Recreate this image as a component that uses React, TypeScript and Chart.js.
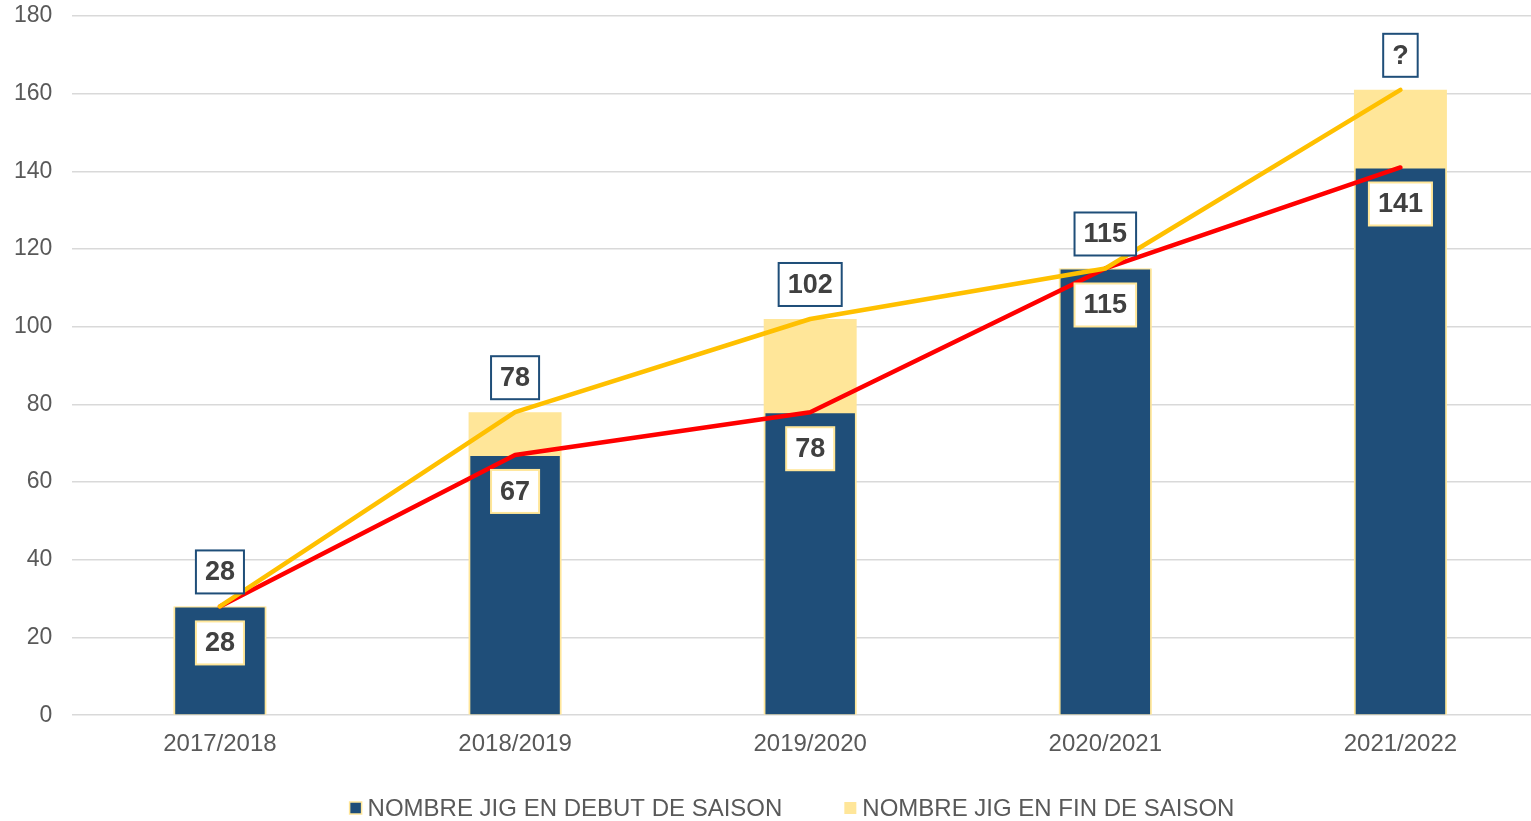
import React, { useEffect, useRef } from "react";
import { Chart, registerables } from "chart.js";

Chart.register(...registerables);

const categories = ["2017/2018", "2018/2019", "2019/2020", "2020/2021", "2021/2022"];
const startValues = [28, 67, 78, 115, 141];
const endValues = [28, 78, 102, 115, 161];
const endLabels = ["28", "78", "102", "115", "?"];
const yTicks = [0, 20, 40, 60, 80, 100, 120, 140, 160, 180];

const DARK = "#1F4E79";
const LIGHT = "#FFE699";
const FONT = "'Liberation Sans', Arial, sans-serif";

function drawBox(ctx: CanvasRenderingContext2D, text: string, cx: number, cy: number, border: string) {
  ctx.save();
  ctx.font = `bold 27px ${FONT}`;
  const w = ctx.measureText(text).width + 18;
  const h = 43;
  ctx.fillStyle = "#FFFFFF";
  ctx.fillRect(cx - w / 2, cy - h / 2, w, h);
  ctx.strokeStyle = border;
  ctx.lineWidth = 2;
  ctx.strokeRect(cx - w / 2, cy - h / 2, w, h);
  ctx.fillStyle = "#404040";
  ctx.textAlign = "center";
  ctx.textBaseline = "middle";
  ctx.fillText(text, cx, cy + 1);
  ctx.restore();
}

const labelPlugin = {
  id: "boxLabels",
  afterDatasetsDraw(chart: any) {
    const ctx = chart.ctx;
    const darkMeta = chart.getDatasetMeta(0);
    const lightMeta = chart.getDatasetMeta(1);
    categories.forEach((_, i) => {
      const lb = lightMeta.data[i];
      const db = darkMeta.data[i];
      drawBox(ctx, endLabels[i], lb.x, lb.y - 13 - 21.5, DARK);
      drawBox(ctx, String(startValues[i]), db.x, db.y + 15 + 21.5, LIGHT);
    });
  },
  afterDraw(chart: any) {
    const ctx = chart.ctx as CanvasRenderingContext2D;
    const items = chart.data.datasets.slice(0, 2);
    ctx.save();
    ctx.font = `24px ${FONT}`;
    const box = 12;
    const gapText = 6;
    const gapItem = 62;
    const widths = items.map((d: any) => box + gapText + ctx.measureText(d.label).width);
    const total = widths.reduce((a: number, b: number) => a + b, 0) + gapItem * (items.length - 1);
    let x = chart.width / 2 + 1 - total / 2;
    const cy = 808;
    items.forEach((d: any, i: number) => {
      ctx.fillStyle = d.backgroundColor;
      ctx.fillRect(x, cy - box / 2, box, box);
      if (d.borderWidth) {
        ctx.strokeStyle = d.borderColor;
        ctx.lineWidth = 1.5;
        ctx.strokeRect(x, cy - box / 2, box, box);
      }
      ctx.fillStyle = "#595959";
      ctx.textAlign = "left";
      ctx.textBaseline = "middle";
      ctx.fillText(d.label, x + box + gapText, cy + 1);
      x += widths[i] + gapItem;
    });
    ctx.restore();
  },
};

export default function App() {
  const ref = useRef<HTMLCanvasElement>(null);
  useEffect(() => {
    document.body.style.margin = "0";
    document.documentElement.style.overflow = "hidden";
    document.body.style.overflow = "hidden";
    const chart = new Chart(ref.current!, {
      type: "bar",
      data: {
        labels: categories,
        datasets: [
          {
            type: "bar",
            label: "NOMBRE JIG EN DEBUT DE SAISON",
            data: startValues,
            backgroundColor: DARK,
            borderColor: LIGHT,
            borderWidth: 1,
            grouped: false,
            order: 1,
            barPercentage: 0.31,
            categoryPercentage: 1,
          } as any,
          {
            type: "bar",
            label: "NOMBRE JIG EN FIN DE SAISON",
            data: endValues,
            backgroundColor: LIGHT,
            borderColor: LIGHT,
            borderWidth: 0,
            grouped: false,
            order: 2,
            barPercentage: 0.315,
            categoryPercentage: 1,
          } as any,
          {
            type: "line",
            label: "fin",
            data: endValues,
            borderColor: "#FFC000",
            borderWidth: 4.5,
            pointRadius: 0,
            borderCapStyle: "round",
            borderJoinStyle: "round",
            tension: 0,
            order: 0,
          } as any,
          {
            type: "line",
            label: "debut",
            data: startValues,
            borderColor: "#FF0000",
            borderWidth: 4.5,
            pointRadius: 0,
            borderCapStyle: "round",
            borderJoinStyle: "round",
            tension: 0,
            order: 0,
          } as any,
        ],
      },
      options: {
        responsive: false,
        animation: false,
        layout: { padding: { top: 16, right: 34, left: -6, bottom: 55 } },
        plugins: {
          tooltip: { enabled: false },
          legend: { display: false },
        },
        scales: {
          x: {
            grid: { display: false },
            border: { display: false },
            ticks: { color: "#595959", font: { size: 24, family: FONT }, padding: 7 },
          },
          y: {
            min: 0,
            max: 180,
            afterBuildTicks: (axis: any) => {
              axis.ticks = yTicks.map((v) => ({ value: v }));
            },
            afterFit: (axis: any) => {
              axis.paddingTop = 0;
              axis.paddingBottom = 0;
            },
            grid: { color: "#D9D9D9", lineWidth: 1.5, drawTicks: false },
            border: { display: false },
            ticks: { color: "#595959", font: { size: 23, family: FONT }, padding: 20 },
          },
        },
      },
      plugins: [labelPlugin],
    });
    return () => chart.destroy();
  }, []);
  return (
    <div style={{ width: 1531, height: 821, overflow: "hidden" }}>
      <canvas ref={ref} width={1582} height={821} />
    </div>
  );
}
